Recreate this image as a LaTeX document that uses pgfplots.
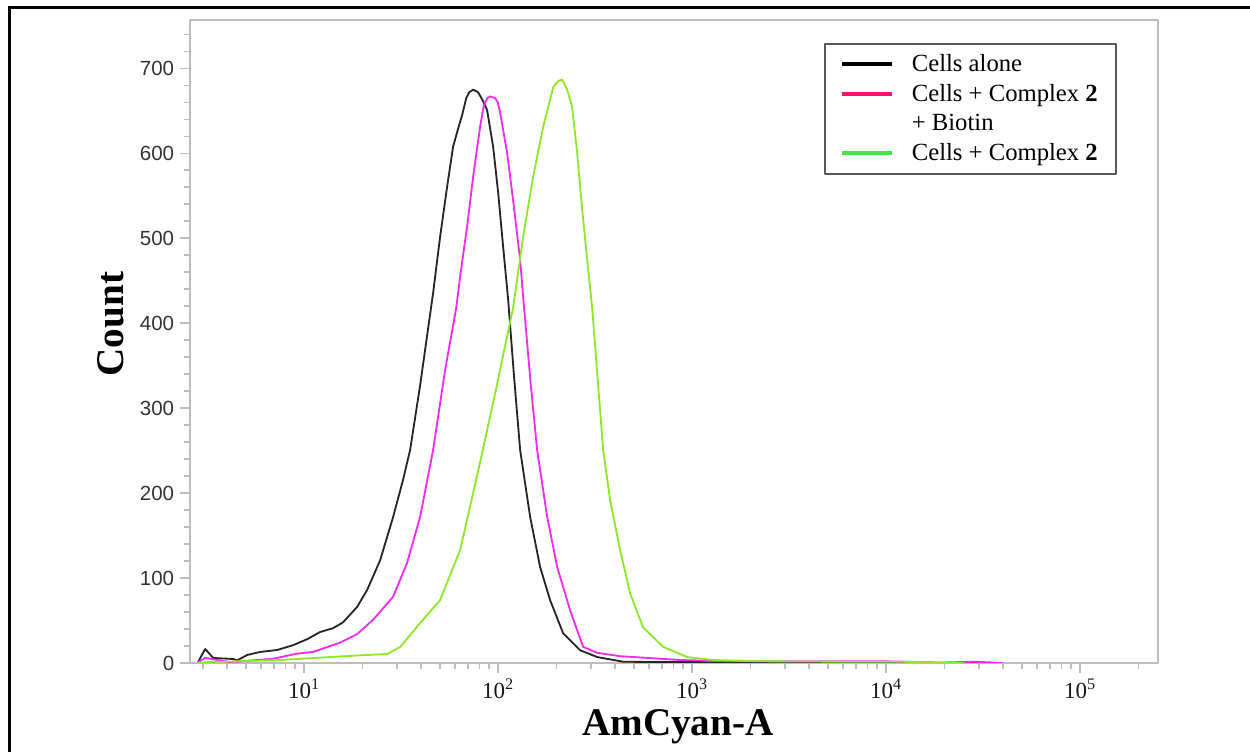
\documentclass[border=0pt]{standalone}
\usepackage{fontspec}
\setmainfont{Liberation Serif}
\newfontfamily\ticksans{Liberation Sans}
\usepackage{pgfplots}
\pgfplotsset{compat=1.18}

\definecolor{axisgray}{HTML}{BDBDBD}
\definecolor{alonecol}{HTML}{262626}
\definecolor{biotincol}{HTML}{F02CF0}
\definecolor{complexcol}{HTML}{8EE82A}
\definecolor{legpink}{HTML}{FF1170}
\definecolor{leggreen}{HTML}{3FE84A}

\begin{document}
\begin{tikzpicture}
\useasboundingbox (-114pt,-53.4pt) rectangle (636pt,397.8pt);
% outer frame
\draw[line width=1.8pt] (-108pt,-60pt) -- (-108pt,393pt) -- (640pt,393pt);
\begin{axis}[
  at={(0,0)}, anchor=south west,
  scale only axis, width=580.8pt, height=385.8pt,
  xmode=log, xmin=2.58, xmax=2.52e5, ymin=0, ymax=757,
  axis line style={axisgray, line width=1.2pt},
  tick style={axisgray, line width=1pt},
  tick align=outside, tick pos=left,
  major tick length=6pt, minor tick length=3.5pt,
  xtick={10,100,1000,10000,100000},
  xticklabels={10\textsuperscript{1},10\textsuperscript{2},10\textsuperscript{3},10\textsuperscript{4},10\textsuperscript{5}},
  minor xtick={3,4,5,6,7,8,9,20,30,40,50,60,70,80,90,200,300,400,500,600,700,800,900,2000,3000,4000,5000,6000,7000,8000,9000,20000,30000,40000,50000,60000,70000,80000,90000,200000},
  ytick={0,100,200,300,400,500,600,700},
  yticklabels={0,100,200,300,400,500,600,700},
  minor ytick={20,40,60,80,120,140,160,180,220,240,260,280,320,340,360,380,420,440,460,480,520,540,560,580,620,640,660,680,720,740},
  yticklabel style={font=\ticksans\fontsize{12.3}{14}\selectfont, text=black!80},
  xticklabel style={font=\fontsize{13.8}{16}\selectfont, text=black!90},
  xlabel={\bfseries AmCyan-A},
  ylabel={\bfseries Count},
  label style={font=\fontsize{23.5}{28}\selectfont},
  xlabel style={at={(axis description cs:0.504,-0.112)}, anchor=base},
  ylabel style={at={(axis description cs:-0.069,0.527)}, anchor=base},
  legend cell align=left,
  legend image code/.code={\draw[#1, line width=2.4pt] (0pt,0pt) -- (30pt,0pt);},
  legend style={at={(rel axis cs:0.655,0.964)}, anchor=north west,
    draw=black!65, line width=0.9pt, fill=white,
    font=\fontsize{14.8}{17.8}\selectfont,
    inner xsep=9.4pt, inner ysep=3.4pt, row sep=0pt, column sep=8.8pt,
    nodes={inner sep=1.65pt, text height=11.6pt, text depth=2.9pt}},
  line join=round,
]
\addlegendimage{black}\addlegendentry{Cells alone}
\addlegendimage{legpink}\addlegendentry{Cells + Complex \textbf{2}}
\addlegendimage{empty legend}\addlegendentry{+ Biotin}
\addlegendimage{leggreen}\addlegendentry{Cells + Complex \textbf{2}}

% Cells alone
\addplot[alonecol, line width=1.1pt, forget plot] coordinates {
(2.84,1.2) (3.09,16.5) (3.40,5.9) (4.31,4.7) (4.51,3) (5.08,9.4) (5.93,13)
(7.26,15.3) (8.78,21) (10.36,28) (12.09,36.5) (14.11,41) (15.89,48)
(18.76,66) (21.12,86) (24.65,121) (28.76,172) (32.38,216) (35.19,251)
(39.63,327) (46.24,436) (50.24,502) (54.6,561) (58.6,608) (62.0,628) (65.2,645)
(68.5,665) (71.0,672) (74.3,675) (78.8,672) (83.0,663) (87.7,651) (94.2,608) (100,554)
(106.1,490) (112.6,428) (120.5,340) (129.8,251) (146.2,172) (164.6,113) (185.3,74)
(216.3,35) (264.7,15) (323.9,7) (440.7,1.5) (709,1) (1100,1) (3600,0.5)
(11800,0) (30000,0)
};
% Cells + Complex 2 + Biotin
\addplot[biotincol, line width=1.1pt, forget plot] coordinates {
(2.84,1) (3.09,6) (4.16,1) (6.92,5) (9.20,11) (11.13,13) (15.33,24)
(18.76,34) (22.69,51) (28.76,78) (33.96,118) (39.63,172) (46.24,251)
(53.3,345) (60.8,418) (63.7,455) (69.2,514) (74.3,572) (80.7,631)
(84.5,657) (88.0,665) (90.9,667) (96.6,665) (99.5,660) (102.4,648) (111.2,601) (119.4,545)
(129.8,475) (136.1,418) (147.0,330) (158.8,251) (179.0,172) (201.5,113) (235.0,62)
(274.3,19) (323.9,12) (425.3,8) (586.6,6) (867,3.5) (1570,2) (3606,2)
(9772,2) (18980,0.5) (28770,1.5) (40000,0)
};
% Cells + Complex 2
\addplot[complexcol, line width=1.1pt, forget plot] coordinates {
(2.84,0) (3.16,1) (7.52,3.5) (13.6,7) (19.4,9) (26.8,10.6) (31.3,19)
(39.6,47) (50.2,74) (63.7,133) (74.3,200) (80.7,236) (96.6,318)
(119.4,418) (134.6,502) (151.4,572) (170.6,631) (192.4,678) (203.9,685)
(213.8,687) (226.9,675) (240.5,655) (255.3,601) (271.1,534) (287.7,475)
(305.3,418) (347.8,251) (377.7,192) (425.3,133) (479.0,82) (558.5,42)
(709.4,19) (942.5,7) (1282,3.5) (2243,2) (6518,1.5) (11800,1.5)
(18970,0.5) (25000,0)
};
\end{axis}
\end{tikzpicture}
\end{document}
